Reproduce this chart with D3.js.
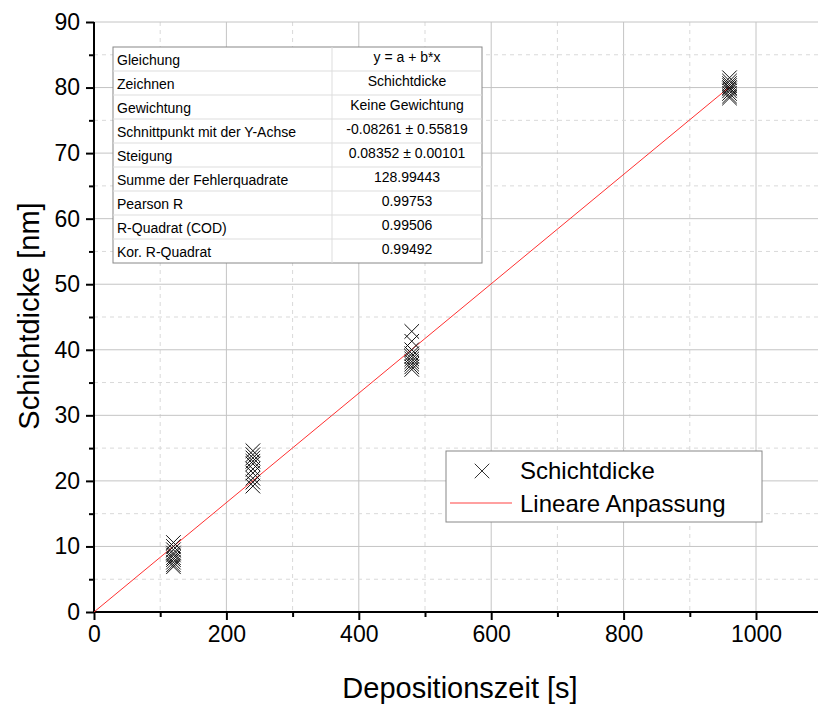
<!DOCTYPE html>
<html>
<head>
<meta charset="utf-8">
<script src="https://cdn.jsdelivr.net/npm/d3@7"></script>
<style>
  body { margin: 0; background: #fff; }
  svg text { font-family: "Liberation Sans", Arial, sans-serif; }
</style>
</head>
<body>
<svg id="chart" width="818" height="704"></svg>
<script>
// measured layer thickness per deposition time
var times = [120, 240, 480, 960]
var thickness = [
  [10.6, 10.0, 9.5, 9.0, 8.7, 8.3, 8.0, 7.6, 7.2, 6.9],
  [24.6, 24.0, 23.5, 23.0, 22.6, 21.8, 21.2, 20.4, 19.8, 19.2],
  [42.8, 41.3, 40.0, 39.4, 39.0, 38.6, 38.2, 37.8, 37.4, 37.0],
  [81.5, 81.0, 80.6, 80.3, 80.0, 79.8, 79.5, 79.1, 78.7, 78.4]
]
var xTicks = [0, 200, 400, 600, 800, 1000]
var yTicks = [0, 10, 20, 30, 40, 50, 60, 70, 80, 90]

// fit results
var fitA = -0.08261
var fitB = 0.08352
var tableKeys = ["Gleichung", "Zeichnen", "Gewichtung", "Schnittpunkt mit der Y-Achse", "Steigung",
  "Summe der Fehlerquadrate", "Pearson R", "R-Quadrat (COD)", "Kor. R-Quadrat"]
var tableVals = ["y = a + b*x", "Schichtdicke", "Keine Gewichtung", "-0.08261 \u00b1 0.55819",
  "0.08352 \u00b1 0.00101", "128.99443", "0.99753", "0.99506", "0.99492"]

var svg = d3.select("#chart")

var x = d3.scaleLinear().domain([0, 1000]).range([94, 756])
var y = d3.scaleLinear().domain([0, 90]).range([612, 22])
var xMax = x.invert(818)

// grid: solid majors, dashed minors
var grid = svg.append("g")
d3.range(100, xMax, 200).forEach(function(v) {
  grid.append("line").attr("x1", x(v)).attr("x2", x(v)).attr("y1", y(90)).attr("y2", y(0))
    .attr("stroke", "#d9d9d9").attr("stroke-dasharray", "4,4")
})
d3.range(200, xMax, 200).forEach(function(v) {
  grid.append("line").attr("x1", x(v)).attr("x2", x(v)).attr("y1", y(90)).attr("y2", y(0))
    .attr("stroke", "#c4c4c4")
})
d3.range(5, 90, 10).forEach(function(v) {
  grid.append("line").attr("x1", x(0)).attr("x2", 818).attr("y1", y(v)).attr("y2", y(v))
    .attr("stroke", "#d9d9d9").attr("stroke-dasharray", "4,4")
})
d3.range(10, 91, 10).forEach(function(v) {
  grid.append("line").attr("x1", x(0)).attr("x2", 818).attr("y1", y(v)).attr("y2", y(v))
    .attr("stroke", "#c4c4c4")
})

// axes
var xAxis = svg.append("g").attr("transform", "translate(0," + y(0) + ")")
  .call(d3.axisBottom(x).tickValues(xTicks).tickFormat(d3.format("d")).tickSize(8).tickPadding(6))
xAxis.append("g").call(d3.axisBottom(x).tickValues(d3.range(100, xMax, 200)).tickSize(5).tickFormat(""))
xAxis.selectAll(".domain").remove()
xAxis.append("line").attr("x1", x(0) - 1).attr("x2", 818).attr("stroke", "#000").attr("stroke-width", 2)

var yAxis = svg.append("g").attr("transform", "translate(" + x(0) + ",0)")
  .call(d3.axisLeft(y).tickValues(yTicks).tickSize(8).tickPadding(6))
yAxis.append("g").call(d3.axisLeft(y).tickValues(d3.range(5, 90, 10)).tickSize(5).tickFormat(""))
yAxis.selectAll(".domain").remove()
yAxis.append("line").attr("y1", y(90)).attr("y2", y(0) + 1).attr("stroke", "#000").attr("stroke-width", 2)

svg.selectAll(".tick line").attr("stroke", "#000").attr("stroke-width", 2)
svg.selectAll(".tick text").attr("fill", "#000").style("font-size", "23px")
  .style("font-family", "Liberation Sans, Arial, sans-serif")

svg.append("text").attr("x", 460).attr("y", 698).attr("text-anchor", "middle")
  .style("font-size", "29px").text("Depositionszeit [s]")
svg.append("text").attr("transform", "translate(39,316) rotate(-90)").attr("text-anchor", "middle")
  .style("font-size", "29px").text("Schichtdicke [nm]")

// linear fit
svg.append("line")
  .attr("x1", x(0)).attr("y1", y(Math.max(0, fitA)))
  .attr("x2", x(960)).attr("y2", y(fitA + fitB * 960))
  .attr("stroke", "#ff3030").attr("stroke-width", 1)

// data crosses
var pts = []
times.forEach(function(t, i) { thickness[i].forEach(function(v) { pts.push([t, v]) }) })
var cross = d3.symbol().type(d3.symbolX).size(140)
svg.append("g").selectAll("path").data(pts).enter().append("path")
  .attr("d", cross)
  .attr("transform", function(d) { return "translate(" + x(d[0]) + "," + y(d[1]) + ")" })
  .attr("fill", "none").attr("stroke", "#111").attr("stroke-width", 1)

// fit parameter table
var tbl = svg.append("g").attr("transform", "translate(113,47)")
var rowH = 24, colW = [219, 150]
tbl.append("rect").attr("width", colW[0] + colW[1]).attr("height", rowH * tableKeys.length)
  .attr("fill", "#fff").attr("stroke", "#888")
tableKeys.forEach(function(k, i) {
  if (i > 0) tbl.append("line").attr("x1", 0).attr("x2", colW[0] + colW[1])
    .attr("y1", i * rowH).attr("y2", i * rowH).attr("stroke", "#ddd")
  tbl.append("text").attr("x", 4).attr("y", i * rowH + 18).style("font-size", "14px").text(k)
  tbl.append("text").attr("x", colW[0] + colW[1] / 2).attr("y", i * rowH + 15)
    .attr("text-anchor", "middle").style("font-size", "14px").text(tableVals[i])
})
tbl.append("line").attr("x1", colW[0]).attr("x2", colW[0]).attr("y1", 0).attr("y2", rowH * tableKeys.length)
  .attr("stroke", "#ddd")

// legend
var leg = svg.append("g").attr("transform", "translate(446,451)")
leg.append("rect").attr("width", 316).attr("height", 71).attr("fill", "#fff").attr("stroke", "#888")
leg.append("path").attr("d", cross).attr("transform", "translate(36,20)")
  .attr("fill", "none").attr("stroke", "#333").attr("stroke-width", 1)
leg.append("line").attr("x1", 4).attr("x2", 66).attr("y1", 52).attr("y2", 52)
  .attr("stroke", "#ff8080").attr("stroke-width", 1.5)
leg.append("text").attr("x", 74).attr("y", 28).style("font-size", "24px").text("Schichtdicke")
leg.append("text").attr("x", 74).attr("y", 61).style("font-size", "24px").text("Lineare Anpassung")
</script>
</body>
</html>
